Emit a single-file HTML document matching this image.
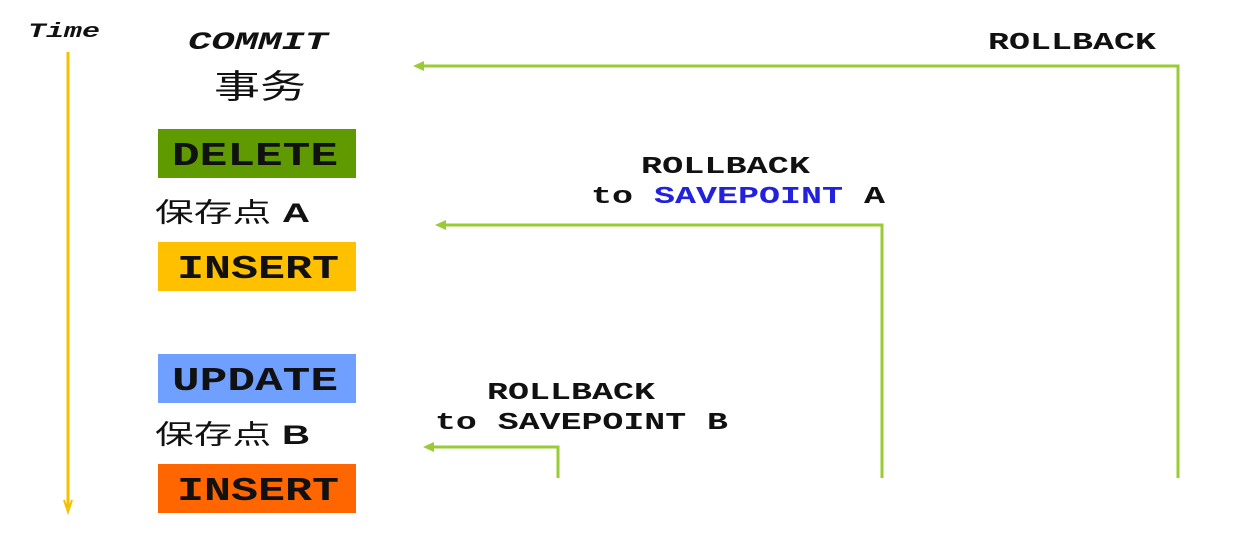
<!DOCTYPE html>
<html><head><meta charset="utf-8"><style>
html,body{margin:0;padding:0;background:#fff;}
svg{display:block;}
.m{font-family:"Liberation Mono",monospace;font-weight:bold;fill:#111;}
.c{font-family:"Liberation Sans","Noto Sans CJK SC",sans-serif;fill:#111;}
</style></head><body>
<svg width="1236" height="554" viewBox="0 0 1236 554" xmlns="http://www.w3.org/2000/svg">
<text class="m" x="28" y="37" font-size="20" font-style="italic" textLength="72" lengthAdjust="spacingAndGlyphs">Time</text>
<line x1="68" y1="52" x2="68" y2="508" stroke="#f5c000" stroke-width="3"/>
<polyline points="64,500 68,512 72,500" fill="none" stroke="#f5c000" stroke-width="2"/>

<text class="m" x="188" y="49" font-size="25" font-style="italic" textLength="140" lengthAdjust="spacingAndGlyphs">COMMIT</text>
<text class="c" x="214" y="98" font-size="33" textLength="92" lengthAdjust="spacingAndGlyphs">事务</text>

<rect x="158" y="129" width="198" height="49" fill="#5f9a00"/>
<text class="m" x="172" y="165" font-size="33" textLength="166" lengthAdjust="spacingAndGlyphs">DELETE</text>

<text class="c" x="155" y="222" font-size="27" textLength="155" lengthAdjust="spacingAndGlyphs">保存点 <tspan font-weight="bold">A</tspan></text>

<rect x="158" y="242" width="198" height="49" fill="#ffc000"/>
<text class="m" x="177" y="278" font-size="33" textLength="162" lengthAdjust="spacingAndGlyphs">INSERT</text>

<rect x="158" y="354" width="198" height="49" fill="#6fa0ff"/>
<text class="m" x="172" y="390" font-size="33" textLength="166" lengthAdjust="spacingAndGlyphs">UPDATE</text>

<text class="c" x="155" y="444" font-size="27" textLength="155" lengthAdjust="spacingAndGlyphs">保存点 <tspan font-weight="bold">B</tspan></text>

<rect x="158" y="464" width="198" height="49" fill="#ff6600"/>
<text class="m" x="177" y="500" font-size="33" textLength="162" lengthAdjust="spacingAndGlyphs">INSERT</text>

<g fill="none" stroke="#99cc33" stroke-width="3">
<polyline points="1178,478 1178,66 420,66"/>
<polyline points="882,478 882,225 442,225"/>
<polyline points="558,478 558,447 430,447"/>
</g>
<g fill="#99cc33">
<polygon points="413,66 424,61 424,71"/>
<polygon points="435,225 446,220 446,230"/>
<polygon points="423,447 434,442 434,452"/>
</g>

<text class="m" x="988" y="49" font-size="24" textLength="168" lengthAdjust="spacingAndGlyphs">ROLLBACK</text>
<text class="m" x="641" y="173" font-size="24" textLength="169" lengthAdjust="spacingAndGlyphs">ROLLBACK</text>
<text class="m" x="591" y="203" font-size="24" textLength="294" lengthAdjust="spacingAndGlyphs">to <tspan fill="#2222dd">SAVEPOINT</tspan> A</text>
<text class="m" x="487" y="399" font-size="24" textLength="168" lengthAdjust="spacingAndGlyphs">ROLLBACK</text>
<text class="m" x="435" y="429" font-size="24" textLength="293" lengthAdjust="spacingAndGlyphs">to SAVEPOINT B</text>
</svg>
</body></html>
